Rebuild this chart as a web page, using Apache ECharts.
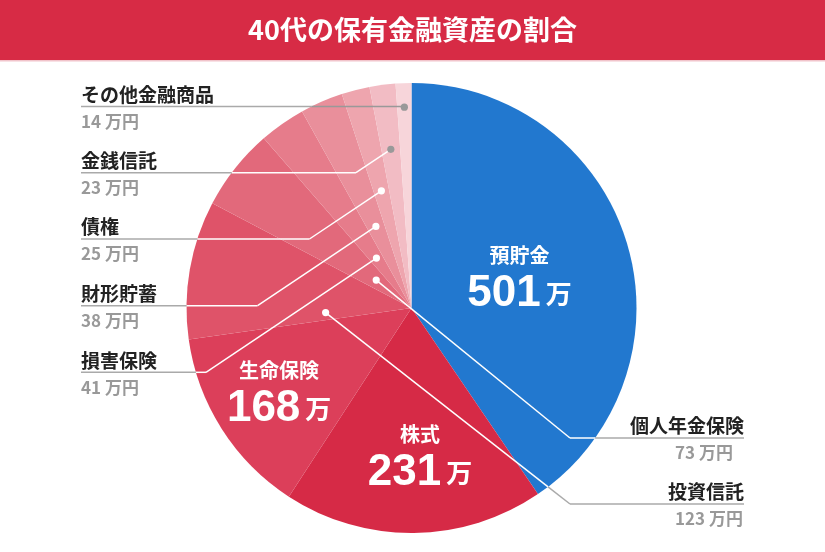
<!DOCTYPE html>
<html>
<head>
<meta charset="utf-8">
<script src="https://cdn.jsdelivr.net/npm/echarts@6/dist/echarts.min.js"></script>
<style>
  html, body { margin: 0; padding: 0; background: #fff; }
  #chart { width: 825px; height: 552px; }
</style>
</head>
<body>
<div id="chart"></div>
<script>
const TITLE = '40代の保有金融資産の割合'
const names = ['預貯金', '株式', '生命保険', '投資信託', '個人年金保険', '損害保険', '財形貯蓄', '債権', '金銭信託', 'その他金融商品']
const values = [501, 231, 168, 123, 73, 41, 38, 25, 23, 14]
const UNIT = '万'
const UNIT_LONG = '万円'

const colors = ['#2278cf', '#d62a46', '#dc3f5a', '#df5369', '#e2697b', '#e67c8b', '#e98f9b', '#eea5ae', '#f2bcc4', '#f7d5da']

// レイアウト
const CX = 411.5, CY = 308, R = 225
const innerLabelR = [113, 146, 157]
const innerLabelShift = [[0, 6], [7, 6], [0, 3]]

// 外側ラベル（投資信託〜その他）
const calloutIdx = [3, 4, 5, 6, 7, 8, 9]
const calloutSide = ['right', 'right', 'left', 'left', 'left', 'left', 'left']
const calloutLineY = [504, 438, 372.3, 305.7, 239, 172.7, 106.5]
const anchorR = [86, 45, 61, 89, 121, 160, 201]
const anchorFrac = [0.14, 0.5, 0.5, 0.5, 0.5, 0.5, 0.5]
const dotGray = [false, false, false, false, false, true, true]
const lineGrayInside = [false, false, false, false, false, false, true]

const total = values.reduce((a, b) => a + b, 0)
const starts = []
let acc = 0
values.forEach(v => { starts.push(acc); acc += v })

// 線分を円の内側/外側に分割
function splitSegment(a, b, c, r) {
  const dx = b[0] - a[0], dy = b[1] - a[1]
  const fx = a[0] - c[0], fy = a[1] - c[1]
  const A = dx * dx + dy * dy
  const B = 2 * (fx * dx + fy * dy)
  const C = fx * fx + fy * fy - r * r
  const ts = [0]
  const disc = B * B - 4 * A * C
  if (A > 0 && disc > 0) {
    const s = Math.sqrt(disc)
    ;[(-B - s) / (2 * A), (-B + s) / (2 * A)].forEach(t => {
      if (t > 0 && t < 1) ts.push(t)
    })
  }
  ts.push(1)
  const out = []
  for (let k = 0; k < ts.length - 1; k++) {
    const t0 = ts[k], t1 = ts[k + 1]
    const tm = (t0 + t1) / 2
    const mx = a[0] + dx * tm - c[0], my = a[1] + dy * tm - c[1]
    out.push({
      p0: [a[0] + dx * t0, a[1] + dy * t0],
      p1: [a[0] + dx * t1, a[1] + dy * t1],
      inside: mx * mx + my * my < r * r
    })
  }
  return out
}

function renderCallout(params, api) {
  const k = api.value(2)
  const i = calloutIdx[k]
  const p = api.coord([api.value(0), api.value(1)])
  const cs = params.coordSys
  const c = [cs.cx, cs.cy]
  const y = calloutLineY[k]
  const left = calloutSide[k] === 'left'
  let bend, end
  if (left) {
    bend = [p[0] - (y - p[1]) / 0.67, y]
    end = [81, y]
  } else {
    bend = [570, y]
    end = [744, y]
  }
  const children = []
  const segs = splitSegment(p, bend, c, cs.r).concat(splitSegment(bend, end, c, cs.r))
  segs.forEach(s => {
    if (Math.abs(s.p0[0] - s.p1[0]) < 0.01 && Math.abs(s.p0[1] - s.p1[1]) < 0.01) return
    children.push({
      type: 'line',
      shape: { x1: s.p0[0], y1: s.p0[1], x2: s.p1[0], y2: s.p1[1] },
      style: { stroke: s.inside ? (lineGrayInside[k] ? '#999' : '#fff') : '#aaa', lineWidth: 1.5 }
    })
  })
  children.push({
    type: 'circle',
    shape: { cx: p[0], cy: p[1], r: 3.6 },
    style: { fill: dotGray[k] ? '#999' : '#fff' }
  })
  children.push({
    type: 'text',
    style: {
      text: names[i],
      x: left ? 81 : 744,
      y: y - 12,
      align: left ? 'left' : 'right',
      verticalAlign: 'middle',
      fill: '#222',
      font: 'bold 19px "Noto Sans CJK JP"'
    }
  })
  children.push({
    type: 'text',
    style: {
      text: values[i] + ' ' + UNIT_LONG,
      x: left ? 81 : 675,
      y: y + 15,
      align: 'left',
      verticalAlign: 'middle',
      fill: '#999',
      font: 'bold 17px "Noto Sans CJK JP"'
    }
  })
  return { type: 'group', children }
}

const chart = echarts.init(document.getElementById('chart'), null, { renderer: 'canvas' })

const option = {
  animation: false,
  title: {
    text: TITLE,
    left: 'center',
    top: 12,
    padding: 0,
    textStyle: {
      color: '#fff',
      fontSize: 27,
      fontWeight: 'bold',
      fontFamily: 'Noto Sans CJK JP',
      lineHeight: 36
    }
  },
  graphic: [
    { type: 'rect', shape: { x: 0, y: 0, width: 825, height: 60 }, style: { fill: '#d72b45' }, z: -1 },
    { type: 'rect', shape: { x: 0, y: 60, width: 825, height: 1.5 }, style: { fill: '#f1c4cb' }, z: -1 }
  ],
  polar: { center: [CX, CY], radius: R },
  angleAxis: { type: 'value', min: 0, max: total, startAngle: 90, clockwise: true, show: false },
  radiusAxis: { type: 'value', min: 0, max: R, show: false },
  series: [
    {
      type: 'pie',
      center: [CX, CY],
      radius: [0, R],
      startAngle: 90,
      clockwise: true,
      avoidLabelOverlap: false,
      silent: true,
      data: names.map((n, i) => ({
        name: n,
        value: values[i],
        itemStyle: { color: colors[i] },
        label: { show: i < 3 }
      })),
      label: {
        position: 'inside',
        formatter: p => `{n|${p.name}}\n{v|${p.value}}{u|${UNIT}}`,
        rich: {
          n: { color: '#fff', fontSize: 20, fontWeight: 'bold', fontFamily: 'Noto Sans CJK JP', lineHeight: 31, align: 'center' },
          v: { color: '#fff', fontSize: 44, fontWeight: 'bold', fontFamily: 'Liberation Sans', lineHeight: 46 },
          u: { color: '#fff', fontSize: 26, fontWeight: 'bold', fontFamily: 'Noto Sans CJK JP', lineHeight: 46, padding: [0, 0, 0, 5] }
        }
      },
      labelLine: { show: false },
      labelLayout: function (params) {
        const i = params.dataIndex
        if (i > 2) return {}
        const theta = (starts[i] + values[i] / 2) / total * Math.PI * 2
        const tx = CX + innerLabelR[i] * Math.sin(theta) + innerLabelShift[i][0]
        const ty = CY - innerLabelR[i] * Math.cos(theta) + innerLabelShift[i][1]
        const lr = params.labelRect
        return { dx: tx - (lr.x + lr.width / 2), dy: ty - (lr.y + lr.height / 2) }
      }
    },
    {
      type: 'custom',
      coordinateSystem: 'polar',
      clip: false,
      silent: true,
      z: 5,
      data: calloutIdx.map((i, k) => [anchorR[k], starts[i] + values[i] * anchorFrac[k], k]),
      renderItem: renderCallout
    }
  ]
}

chart.setOption(option)
</script>
</body>
</html>
